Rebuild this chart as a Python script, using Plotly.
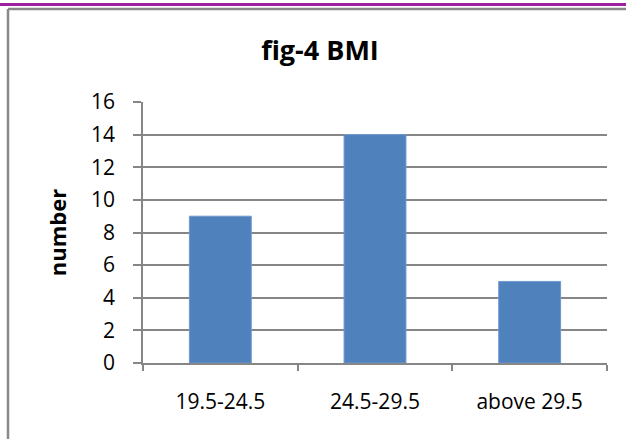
import plotly.graph_objects as go

# BMI distribution
categories = ["19.5-24.5", "24.5-29.5", "above 29.5"]
counts = [9, 14, 5]
y_ticks = [0, 2, 4, 6, 8, 10, 12, 14, 16]

W, H = 626, 439
L, R, T, B = 143, 19, 102, 76
pw, ph = W - L - R, H - T - B

def px_x(x):
    return (x - L) / pw

def px_y(y):
    return 1 - (y - T) / ph

FONT = "Open Sans"
GRID = "#868686"

fig = go.Figure(
    go.Bar(
        x=categories,
        y=counts,
        width=0.4,
        marker=dict(color="#4F81BD", line=dict(color="#6E98CC", width=1)),
    )
)

fig.update_layout(
    width=W,
    height=H,
    margin=dict(l=L, r=R, t=T, b=B),
    paper_bgcolor="white",
    plot_bgcolor="white",
    showlegend=False,
    font=dict(family=FONT, size=21, color="black"),
    title=dict(
        text="<b>fig-4 BMI</b>",
        x=px_x(320), xref="paper", xanchor="center",
        y=1 - 51 / H, yref="container", yanchor="middle",
        font=dict(family=FONT, size=27, color="black"),
    ),
    xaxis=dict(
        type="category",
        showline=True, linecolor=GRID, linewidth=1.5,
        ticks="outside", tickson="boundaries", ticklen=6, tickcolor=GRID, tickwidth=1.5,
        showgrid=False,
        tickfont=dict(family=FONT, size=21),
        ticklabelstandoff=19,
    ),
    yaxis=dict(
        range=[0, 16],
        tickvals=y_ticks,
        showline=True, linecolor=GRID, linewidth=1.5,
        ticks="outside", ticklen=8, tickcolor=GRID, tickwidth=1.5,
        showgrid=True, gridcolor=GRID, gridwidth=1.5,
        zeroline=False,
        tickfont=dict(family=FONT, size=21),
        ticklabelstandoff=14,
        title=dict(text="<b>number</b>", font=dict(family=FONT, size=22), standoff=18),
    ),
    shapes=[
        # purple rule across the top of the page
        dict(type="line", xref="paper", yref="paper",
             x0=px_x(0), x1=px_x(W), y0=px_y(4.5), y1=px_y(4.5),
             line=dict(color="#A01FA0", width=3)),
        # chart frame (top and left edges)
        dict(type="line", xref="paper", yref="paper",
             x0=px_x(8), x1=px_x(W), y0=px_y(9), y1=px_y(9),
             line=dict(color="#888888", width=2.5)),
        dict(type="line", xref="paper", yref="paper",
             x0=px_x(8), x1=px_x(8), y0=px_y(9), y1=px_y(H),
             line=dict(color="#888888", width=2.5)),
    ],
)

fig.write_html("out.html")
